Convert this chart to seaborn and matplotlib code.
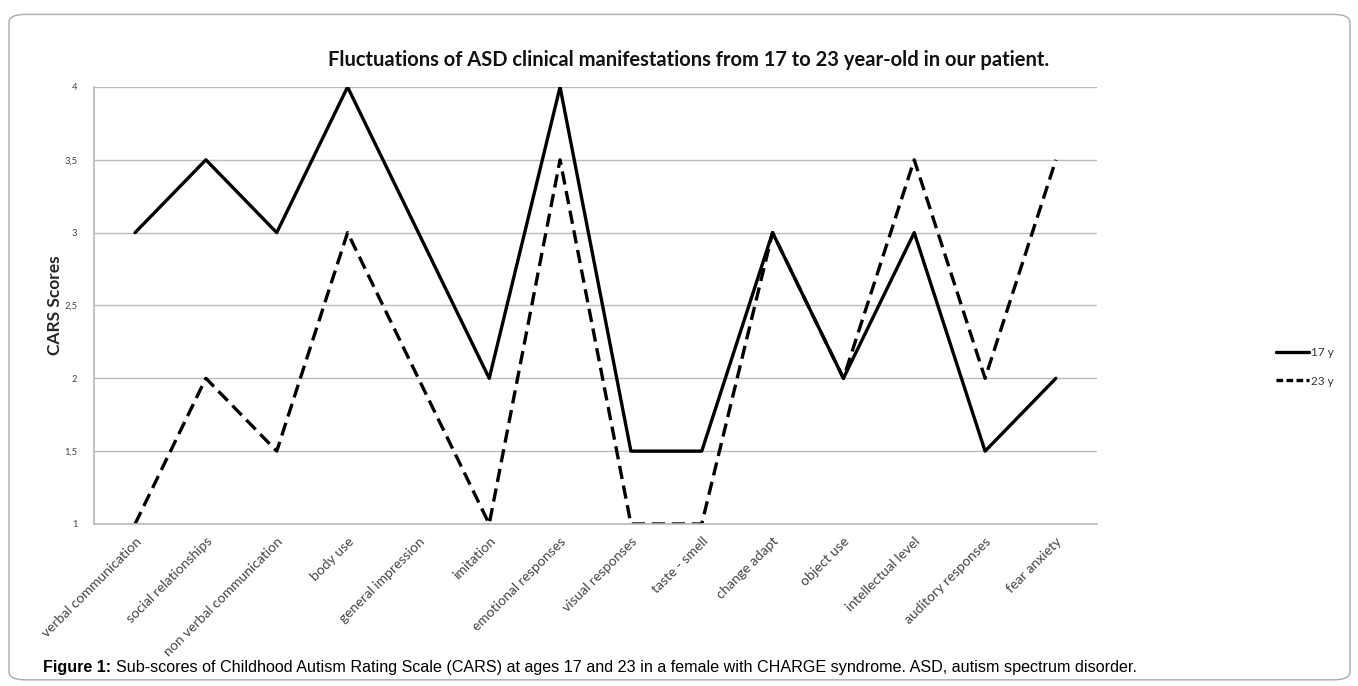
import matplotlib
matplotlib.use("Agg")
import matplotlib.pyplot as plt
from matplotlib.patches import FancyBboxPatch
from matplotlib.lines import Line2D
import seaborn as sns
import pandas as pd

categories = ["verbal communication", "social relationships", "non verbal communication",
              "body use", "general impression", "imitation", "emotional responses",
              "visual responses", "taste - smell", "change adapt", "object use",
              "intellectual level", "auditory responses", "fear anxiety"]
scores_17 = [3, 3.5, 3, 4, 3, 2, 4, 1.5, 1.5, 3, 2, 3, 1.5, 2]
scores_23 = [1, 2, 1.5, 3, 2, 1, 3.5, 1, 1, 3, 2, 3.5, 2, 3.5]
series_names = ["17 y", "23 y"]
y_ticks = [1, 1.5, 2, 2.5, 3, 3.5, 4]
y_tick_labels = ["1", "1,5", "2", "2,5", "3", "3,5", "4"]

sns.set_theme(style="white")
plt.rcParams['font.family'] = ['Lato', 'DejaVu Sans']

df = pd.DataFrame({
    "x": list(range(len(categories))) * 2,
    "score": scores_17 + scores_23,
    "age": [series_names[0]] * len(categories) + [series_names[1]] * len(categories),
})

fig = plt.figure(figsize=(13.58, 6.86), dpi=100)
ax = fig.add_axes([0.0692, 0.2362, 0.7386, 0.6370])

sns.lineplot(data=df, x="x", y="score", style="age", hue="age",
             palette={series_names[0]: "black", series_names[1]: "black"},
             dashes={series_names[0]: "", series_names[1]: (4, 2)},
             linewidth=2.4, ax=ax, legend=False)

ax.set_xlim(-0.58, len(categories) - 1 + 0.58)
ax.set_ylim(1, 4)
ax.set_yticks(y_ticks)
ax.set_yticklabels(y_tick_labels, fontsize=6.8, color="#444444")
ax.set_xticks(range(len(categories)))
ax.set_xticklabels(categories, rotation=45, ha="right", rotation_mode="anchor",
                   fontsize=10, color="#444444")
ax.tick_params(axis="y", length=0, pad=12)
ax.tick_params(axis="x", length=0, pad=8)
ax.set_xlabel("")
ax.set_ylabel("CARS Scores", fontsize=12.5, fontweight="bold", labelpad=1)
ax.grid(axis="y", color="#bbbbbb", linewidth=1)
ax.grid(axis="x", visible=False)
for s in ["top", "right"]:
    ax.spines[s].set_visible(False)
ax.spines["left"].set_color("#bbbbbb")
ax.spines["bottom"].set_color("#bbbbbb")
ax.set_axisbelow(True)

handles = [Line2D([], [], color="black", lw=2.4, linestyle="-"),
           Line2D([], [], color="black", lw=2.4, dashes=(2, 1))]
ax.legend(handles, series_names, loc="center left", bbox_to_anchor=(1.168, 0.36),
          frameon=False, fontsize=8.5, handlelength=2.8, handletextpad=0.15,
          labelspacing=1.5, labelcolor="#333333")

fig.text(0.507, 0.912, "Fluctuations of ASD clinical manifestations from 17 to 23 year-old in our patient.",
         ha="center", va="center", fontsize=14.5, fontweight="bold", color="#111111")

cap_y = 0.027
t1 = fig.text(0.032, cap_y, "Figure 1:", ha="left", va="center", fontsize=11.6,
              fontweight="bold", family="Liberation Sans", color="black")
fig.canvas.draw()
bb = t1.get_window_extent()
x2 = (bb.x1 + 4) / fig.bbox.width
fig.text(x2, cap_y, "Sub-scores of Childhood Autism Rating Scale (CARS) at ages 17 and 23 in a female with CHARGE syndrome. ASD, autism spectrum disorder.",
         ha="left", va="center", fontsize=11.6, family="Liberation Sans", color="black")

border = FancyBboxPatch((0.0066, 0.009), 0.9875, 0.97, boxstyle="round,pad=0,rounding_size=0.012",
                        transform=fig.transFigure, fill=False, edgecolor="#aaaaaa", linewidth=1)
fig.patches.append(border)

fig.savefig("out.png", dpi=100)
